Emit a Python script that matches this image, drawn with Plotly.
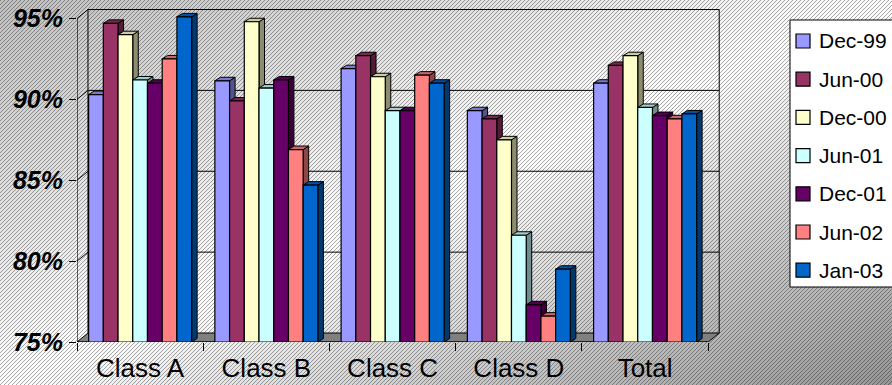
import base64, struct, zlib
import numpy as np
import plotly.graph_objects as go

# ---------------- data ----------------
categories = ["Class A", "Class B", "Class C", "Class D", "Total"]
series_names = ["Dec-99", "Jun-00", "Dec-00", "Jun-01", "Dec-01", "Jun-02", "Jan-03"]
dec99 = [90.3, 91.15, 91.9, 89.3, 91.0]
jun00 = [94.7, 89.9, 92.7, 88.8, 92.1]
dec00 = [94.0, 94.8, 91.4, 87.5, 92.7]
jun01 = [91.2, 90.7, 89.3, 81.6, 89.5]
dec01 = [91.0, 91.2, 89.3, 77.3, 89.0]
jun02 = [92.5, 86.9, 91.5, 76.6, 88.8]
jan03 = [95.1, 84.7, 91.0, 79.5, 89.1]
series_values = [dec99, jun00, dec00, jun01, dec01, jun02, jan03]
y_ticks = [75, 80, 85, 90, 95]
y_tick_labels = ["75%", "80%", "85%", "90%", "95%"]

colors = ["#9999FF", "#993366", "#FFFFCC", "#CCFFFF", "#660066", "#FF8080", "#0066CC"]

# ---------------- geometry ----------------
W, H = 892, 385
ML, MR, MT, MB = 77, 169, 8, 43
PW, PH = W - ML - MR, H - MT - MB
Y0, Y1 = 75, 95.65
X0, X1 = -0.5, 4.617
WALL_DX, WALL_DY = 0.087, 0.556      # depth of the back wall (data units)
BAR_DX, BAR_DY = 0.0436, 0.216       # depth of each bar
BARGAP = 0.184
nser = len(series_names)
bw = (1 - BARGAP) / nser


def shade(hexc, f):
    h = hexc.lstrip("#")
    r, g, b = (int(h[i:i + 2], 16) for i in (0, 2, 4))
    return "rgb(%d,%d,%d)" % (int(r * f), int(g * f), int(b * f))


# ---------------- background (hatched, gradient) ----------------
def make_png(arr):
    h, w = arr.shape
    raw = b"".join(b"\x00" + arr[r].tobytes() for r in range(h))

    def chunk(tag, data):
        c = struct.pack(">I", len(data)) + tag + data
        return c + struct.pack(">I", zlib.crc32(tag + data) & 0xFFFFFFFF)

    return (b"\x89PNG\r\n\x1a\n"
            + chunk(b"IHDR", struct.pack(">IIBBBBB", w, h, 8, 0, 0, 0, 0))
            + chunk(b"IDAT", zlib.compress(raw, 9))
            + chunk(b"IEND", b""))


yy, xx = np.mgrid[0:H, 0:W]
tpos = (xx / W + yy / H) / 2.0
light = np.interp(tpos, [0.0, 0.5, 1.0], [192, 254, 150])
hatch = ((xx + yy) % 4 == 0)
img = np.where(hatch, light * 0.66, light).clip(0, 255).astype(np.uint8)
bg_uri = "data:image/png;base64," + base64.b64encode(make_png(img)).decode()

fig = go.Figure()

# ---------------- front faces (bars) ----------------
xpos = list(range(len(categories)))
for name, vals, col in zip(series_names, series_values, colors):
    fig.add_trace(go.Bar(
        x=xpos, y=vals, name=name, marker=dict(color=col, line=dict(color="black", width=1.2)),
        showlegend=False, hovertemplate="%{y:.1f}%<extra>" + name + "</extra>"))

shapes = []


def poly(pts, fill, lw=1.0, layer="below"):
    path = "M " + " L ".join("%.5f,%.5f" % p for p in pts) + " Z"
    shapes.append(dict(type="path", path=path, xref="x", yref="y", fillcolor=fill,
                       line=dict(color="black", width=lw), layer=layer))


def seg(p0, p1, lw=1.0, layer="below"):
    shapes.append(dict(type="line", xref="x", yref="y", x0=p0[0], y0=p0[1], x1=p1[0], y1=p1[1],
                       line=dict(color="black", width=lw), layer=layer))


# floor
xl, xr = -0.5, len(categories) - 0.5
poly([(xl, Y0), (xr, Y0), (xr + WALL_DX, Y0 + WALL_DY), (xl + WALL_DX, Y0 + WALL_DY)], "#808080")
# walls: gridlines on the back wall + diagonals on the left wall
for v in y_ticks[1:]:
    seg((xl, v), (xl + WALL_DX, v + WALL_DY))
    seg((xl + WALL_DX, v + WALL_DY), (xr + WALL_DX, v + WALL_DY))
seg((xl + WALL_DX, Y0 + WALL_DY), (xl + WALL_DX, y_ticks[-1] + WALL_DY))
seg((xr + WALL_DX, Y0 + WALL_DY), (xr + WALL_DX, y_ticks[-1] + WALL_DY))

# bar sides / tops, left to right
for i in range(len(categories)):
    for j in range(nser):
        v = series_values[j][i]
        bl = i - 0.5 + BARGAP / 2 + j * bw
        br = bl + bw
        poly([(br, Y0), (br, v), (br + BAR_DX, v + BAR_DY), (br + BAR_DX, Y0 + BAR_DY)],
             shade(colors[j], 0.55))
        poly([(bl, v), (br, v), (br + BAR_DX, v + BAR_DY), (bl + BAR_DX, v + BAR_DY)],
             shade(colors[j], 0.8))

# front axis lines
seg((xl, Y0), (xr, Y0), 1.2, "above")
seg((xl, Y0), (xl, y_ticks[-1]), 1.2, "above")


# ---------------- legend (drawn) ----------------
def px(xp):
    return (xp - ML) / PW


def py(yp):
    return (H - MB - yp) / PH


shapes.append(dict(type="rect", xref="paper", yref="paper", x0=px(790), x1=px(905), y0=py(287), y1=py(20),
                   fillcolor="white", line=dict(color="black", width=1), layer="above"))
annotations = []
for k, (name, col) in enumerate(zip(series_names, colors)):
    cy = 41 + k * 38.2
    shapes.append(dict(type="rect", xref="paper", yref="paper", x0=px(796), x1=px(810),
                       y0=py(cy + 7), y1=py(cy - 7), fillcolor=col,
                       line=dict(color="black", width=1.2), layer="above"))
    annotations.append(dict(xref="paper", yref="paper", x=px(817), y=py(cy), text=name,
                            xanchor="left", yanchor="middle", showarrow=False,
                            font=dict(family="Liberation Sans, Arial", size=21, color="black")))

fig.update_layout(
    width=W, height=H, margin=dict(l=ML, r=MR, t=MT, b=MB, pad=0, autoexpand=False),
    paper_bgcolor="white", plot_bgcolor="rgba(0,0,0,0)",
    barmode="group", bargap=BARGAP, bargroupgap=0,
    shapes=shapes, annotations=annotations,
    images=[dict(source=bg_uri, xref="paper", yref="paper", x=-ML / PW, y=1 + MT / PH,
                 sizex=W / PW, sizey=H / PH, xanchor="left", yanchor="top",
                 sizing="stretch", layer="below")],
    xaxis=dict(range=[X0, X1], tickmode="array", tickvals=xpos, ticktext=categories,
               ticks="", showgrid=False, zeroline=False, showline=False, automargin=False,
               tickfont=dict(family="Liberation Sans, Arial", size=26, color="black"),
               ticklabelstandoff=8,
               minor=dict(tickmode="array", tickvals=[k - 0.5 for k in range(len(categories) + 1)],
                          ticks="outside", ticklen=8, tickwidth=1, tickcolor="black", showgrid=False)),
    yaxis=dict(range=[Y0, Y1], tickmode="array", tickvals=y_ticks, ticktext=y_tick_labels,
               ticks="outside", ticklen=7, tickwidth=1, tickcolor="black", automargin=False,
               showgrid=False, zeroline=False, showline=False,
               tickfont=dict(family="Liberation Sans, Arial", size=25, color="black",
                             weight="bold", style="italic"),
               ticklabelstandoff=1),
    font=dict(family="Liberation Sans, Arial"),
)

fig.write_html("out.html")
